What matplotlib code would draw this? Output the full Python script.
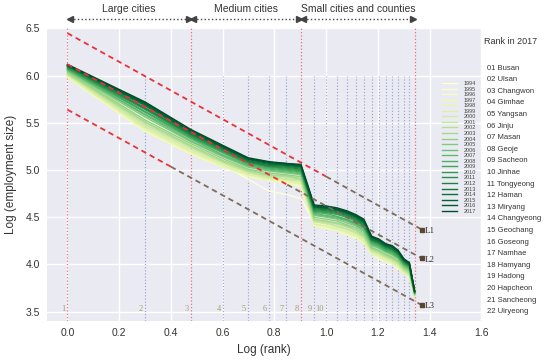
import numpy as np
import matplotlib
matplotlib.use("Agg")
import matplotlib.pyplot as plt
import matplotlib.transforms as mtransforms

plt.rcParams['font.family'] = ['Liberation Sans', 'DejaVu Sans']

# ranks and years
ranks = np.arange(1, 23)
years = list(range(1994, 2018))

# log employment size by rank, one row per year
emp = {
    1994: [6.04, 5.54, 5.28, 5.06, 4.90, 4.78, 4.74, 4.70, 4.44, 4.42, 4.40, 4.37, 4.33, 4.27, 4.16, 4.13, 4.09, 4.06, 4.02, 3.95, 3.91, 3.68],
    1995: [5.99, 5.43, 5.20, 5.04, 4.95, 4.90, 4.88, 4.85, 4.42, 4.40, 4.38, 4.34, 4.31, 4.25, 4.12, 4.09, 4.05, 4.02, 3.98, 3.92, 3.88, 3.67],
    1996: [5.98, 5.41, 5.17, 5.03, 4.93, 4.89, 4.86, 4.83, 4.41, 4.38, 4.36, 4.31, 4.28, 4.23, 4.11, 4.06, 4.03, 4.01, 3.95, 3.91, 3.86, 3.66],
    1997: [5.99, 5.42, 5.18, 5.03, 4.94, 4.89, 4.87, 4.84, 4.41, 4.39, 4.36, 4.33, 4.29, 4.23, 4.11, 4.08, 4.04, 4.01, 3.97, 3.91, 3.87, 3.66],
    1998: [5.99, 5.43, 5.19, 5.04, 4.95, 4.90, 4.88, 4.85, 4.42, 4.40, 4.37, 4.34, 4.30, 4.24, 4.12, 4.09, 4.04, 4.02, 3.97, 3.91, 3.87, 3.67],
    1999: [6.00, 5.44, 5.20, 5.05, 4.95, 4.91, 4.89, 4.86, 4.43, 4.41, 4.38, 4.35, 4.31, 4.25, 4.12, 4.09, 4.05, 4.02, 3.98, 3.92, 3.88, 3.67],
    2000: [6.01, 5.46, 5.22, 5.07, 4.97, 4.92, 4.90, 4.88, 4.45, 4.43, 4.40, 4.37, 4.33, 4.27, 4.14, 4.11, 4.07, 4.04, 4.00, 3.93, 3.89, 3.67],
    2001: [6.02, 5.48, 5.24, 5.08, 4.98, 4.93, 4.91, 4.89, 4.46, 4.44, 4.41, 4.38, 4.34, 4.29, 4.15, 4.12, 4.08, 4.05, 4.01, 3.94, 3.90, 3.68],
    2002: [6.02, 5.50, 5.25, 5.09, 4.99, 4.94, 4.93, 4.90, 4.47, 4.45, 4.43, 4.40, 4.36, 4.30, 4.16, 4.13, 4.09, 4.06, 4.02, 3.95, 3.91, 3.68],
    2003: [6.03, 5.51, 5.26, 5.10, 5.00, 4.95, 4.94, 4.91, 4.48, 4.46, 4.44, 4.41, 4.37, 4.31, 4.17, 4.14, 4.10, 4.07, 4.03, 3.96, 3.92, 3.68],
    2004: [6.04, 5.53, 5.28, 5.12, 5.01, 4.97, 4.95, 4.93, 4.50, 4.48, 4.46, 4.42, 4.39, 4.33, 4.18, 4.15, 4.11, 4.08, 4.04, 3.97, 3.93, 3.69],
    2005: [6.05, 5.56, 5.30, 5.14, 5.03, 4.99, 4.97, 4.95, 4.52, 4.50, 4.48, 4.44, 4.41, 4.35, 4.20, 4.17, 4.13, 4.10, 4.06, 3.98, 3.94, 3.69],
    2006: [6.06, 5.58, 5.31, 5.15, 5.04, 5.00, 4.98, 4.96, 4.53, 4.51, 4.49, 4.46, 4.42, 4.36, 4.21, 4.18, 4.14, 4.11, 4.07, 3.99, 3.95, 3.69],
    2007: [6.06, 5.59, 5.33, 5.16, 5.05, 5.01, 4.99, 4.97, 4.54, 4.52, 4.50, 4.47, 4.43, 4.38, 4.22, 4.19, 4.14, 4.12, 4.07, 4.00, 3.96, 3.70],
    2008: [6.07, 5.61, 5.34, 5.18, 5.06, 5.02, 5.00, 4.98, 4.55, 4.54, 4.51, 4.48, 4.44, 4.39, 4.23, 4.20, 4.15, 4.13, 4.08, 4.00, 3.96, 3.70],
    2009: [6.08, 5.62, 5.35, 5.19, 5.07, 5.03, 5.01, 4.99, 4.56, 4.55, 4.53, 4.50, 4.46, 4.40, 4.24, 4.21, 4.16, 4.14, 4.09, 4.01, 3.97, 3.70],
    2010: [6.08, 5.64, 5.36, 5.20, 5.08, 5.04, 5.02, 5.00, 4.57, 4.56, 4.54, 4.51, 4.47, 4.41, 4.25, 4.22, 4.17, 4.15, 4.10, 4.02, 3.98, 3.70],
    2011: [6.09, 5.65, 5.37, 5.21, 5.09, 5.04, 5.03, 5.01, 4.58, 4.57, 4.55, 4.52, 4.48, 4.42, 4.26, 4.23, 4.18, 4.16, 4.11, 4.03, 3.99, 3.71],
    2012: [6.10, 5.66, 5.38, 5.22, 5.09, 5.05, 5.04, 5.02, 4.59, 4.58, 4.56, 4.53, 4.49, 4.43, 4.26, 4.23, 4.19, 4.16, 4.12, 4.03, 3.99, 3.71],
    2013: [6.10, 5.68, 5.39, 5.23, 5.10, 5.06, 5.05, 5.03, 4.60, 4.59, 4.57, 4.54, 4.50, 4.44, 4.27, 4.24, 4.19, 4.17, 4.12, 4.04, 4.00, 3.71],
    2014: [6.11, 5.69, 5.40, 5.24, 5.11, 5.07, 5.05, 5.04, 4.61, 4.60, 4.58, 4.55, 4.51, 4.45, 4.28, 4.25, 4.20, 4.18, 4.13, 4.04, 4.00, 3.71],
    2015: [6.11, 5.70, 5.41, 5.24, 5.12, 5.08, 5.06, 5.04, 4.61, 4.60, 4.58, 4.55, 4.51, 4.46, 4.29, 4.26, 4.21, 4.19, 4.14, 4.05, 4.01, 3.72],
    2016: [6.11, 5.71, 5.42, 5.25, 5.12, 5.08, 5.07, 5.05, 4.62, 4.61, 4.59, 4.56, 4.52, 4.47, 4.29, 4.26, 4.21, 4.19, 4.14, 4.05, 4.01, 3.72],
    2017: [6.12, 5.72, 5.43, 5.26, 5.13, 5.09, 5.07, 5.06, 4.63, 4.62, 4.60, 4.57, 4.53, 4.48, 4.30, 4.27, 4.22, 4.20, 4.15, 4.06, 4.02, 3.72],
}

cities = ["Busan", "Ulsan", "Changwon", "Gimhae", "Yangsan", "Jinju", "Masan",
          "Geoje", "Sacheon", "Jinhae", "Tongyeong", "Haman", "Miryang",
          "Changyeong", "Geochang", "Goseong", "Namhae", "Hamyang", "Hadong",
          "Hapcheon", "Sancheong", "Uiryeong"]

# reference lines L1-L3: (start y at log rank 0, end x, end y)
ref_names = ["L1", "L2", "L3"]
ref_y0 = [6.45, 6.12, 5.64]
ref_x1 = [1.37, 1.37, 1.37]
ref_y1 = [4.37, 4.065, 3.57]
ref_red_until = [1.0, 0.85, 0.4]

groups = [("Large cities", 1, 3), ("Medium cities", 3, 8), ("Small cities and counties", 8, 22)]
boundary_ranks = [1, 3, 8, 22]

# ---- plot
fig = plt.figure(figsize=(5.5, 3.6), dpi=100)
ax = fig.add_axes([0.085, 0.108, 0.79, 0.813])
ax.set_facecolor('#EAEAF2')
ax.grid(True, color='white', linewidth=1.0)
ax.set_axisbelow(True)
for s in ax.spines.values():
    s.set_visible(False)
ax.tick_params(length=0, labelsize=7.5, labelcolor='#333333', pad=5)

ax.set_xlim(-0.08, 1.6)
ax.set_ylim(3.4, 6.5)
ax.set_xticks(np.arange(0, 1.61, 0.2))
ax.set_yticks(np.arange(3.5, 6.51, 0.5))

lx = np.log10(ranks)

# vertical rank lines
for r, x in zip(ranks, lx):
    if r in boundary_ranks:
        ax.axvline(x, color='#e87080', ls=':', lw=0.9, zorder=1)
    else:
        ax.plot([x, x], [3.4, 6.0], color='#9aa6d4', ls=':', lw=0.85, zorder=1)
    if r <= 10:
        ax.text(x - 0.008, 3.525, str(r), ha='right', va='center', fontsize=6,
                color='#a89c78', family='Liberation Serif')

# year lines
colors = plt.cm.YlGn(np.linspace(0.03, 0.97, len(years)))
for i, yr in enumerate(years):
    ax.plot(lx, emp[yr], color=colors[i], lw=1.0, label=str(yr), zorder=3 + i * 0.01)

# reference lines
for name, y0, x1, y1, xr in zip(ref_names, ref_y0, ref_x1, ref_y1, ref_red_until):
    slope = (y1 - y0) / x1
    ax.plot([0, xr], [y0, y0 + slope * xr], color='#e8323c', ls=(0, (3, 2.2)), lw=1.3, zorder=5)
    ax.plot([xr, x1], [y0 + slope * xr, y1], color='#7f6c58', ls=(0, (3, 2.2)), lw=1.3, zorder=5)
    ax.plot([x1], [y1], marker='s', ms=2.5, color='#5a4630', zorder=6)
    ax.text(x1 + 0.012, y1 - 0.015, name, fontsize=6.5, va='center', ha='left',
            family='Liberation Serif', color='#333333')

# group arrows on top
trans = mtransforms.blended_transform_factory(ax.transData, ax.transAxes)
for label, ra, rb in groups:
    xa, xb = np.log10(ra), np.log10(rb)
    gap = 0.008
    ax.plot([xa + gap, xb - gap], [1.032, 1.032], transform=trans, clip_on=False,
            color='#444444', ls=':', lw=1.0)
    ax.plot([xa + gap], [1.032], transform=trans, clip_on=False, marker='<', ms=4,
            color='#444444', ls='none')
    ax.plot([xb - gap], [1.032], transform=trans, clip_on=False, marker='>', ms=4,
            color='#444444', ls='none')
    ax.text((xa + xb) / 2, 1.068, label, transform=trans, ha='center', va='center',
            fontsize=7.5, color='#333333')

ax.set_xlabel("Log (rank)", fontsize=8.5, color='#333333', labelpad=4)
ax.set_ylabel("Log (employment size)", fontsize=8.5, color='#333333', labelpad=6)

leg = ax.legend(loc='upper right', bbox_to_anchor=(0.995, 0.83), frameon=False,
                fontsize=4, labelspacing=0.1, handlelength=2.8, handletextpad=1.2,
                borderpad=0)
for t in leg.get_texts():
    t.set_color('#444444')

# city rank list on right
fig.text(0.88, 1 - 42 / 360, "Rank in 2017", fontsize=6.5, color='#333333', va='center')
for i, c in enumerate(cities):
    fig.text(0.886, 1 - (68 + i * 11.6) / 360, "%02d %s" % (i + 1, c), fontsize=5.5,
             color='#333333', va='center')

fig.savefig("out.png", dpi=100)
